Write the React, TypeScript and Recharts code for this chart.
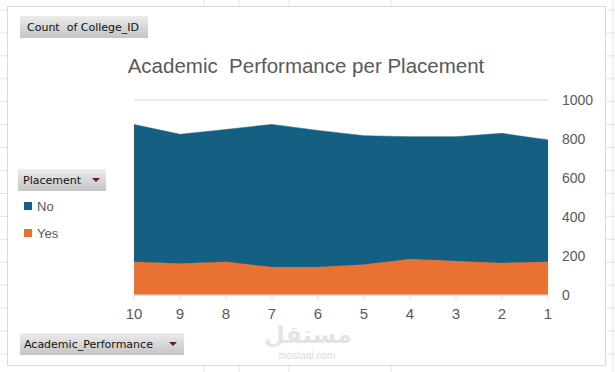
import React from 'react';
import { AreaChart, Area, XAxis, YAxis, CartesianGrid, Legend } from 'recharts';

const categories = ['10', '9', '8', '7', '6', '5', '4', '3', '2', '1'];
const yesCounts = [170, 161, 170, 144, 144, 156, 185, 175, 164, 170];
const noCounts = [705, 663, 679, 731, 700, 661, 627, 637, 665, 625];
const yTicks = [0, 200, 400, 600, 800, 1000];
const legendOrder = ['No', 'Yes'];

const data = categories.map((c, i) => ({ cat: c, Yes: yesCounts[i], No: noCounts[i] }));

const COLORS: Record<string, string> = { No: '#156082', Yes: '#E97132' };
const TEXT = '#595959';
const W = 615;
const H = 372;

const sheetRows = Array.from({ length: 17 }, (_, k) => 10 + k * 22.93);
const sheetCols = [204, 239, 289, 391];

const FieldButton = ({ left, top, width, label, pad, arrowRight }: any) => (
  <div
    style={{
      position: 'absolute',
      left,
      top,
      width,
      height: 22,
      boxSizing: 'border-box',
      background: 'linear-gradient(#ececec, #c4c4c4)',
      fontFamily: '"DejaVu Sans", sans-serif',
      fontSize: 11,
      color: '#111',
      display: 'flex',
      alignItems: 'center',
      paddingLeft: pad,
      whiteSpace: 'pre',
    }}
  >
    {label}
    {arrowRight != null && (
      <span
        style={{
          position: 'absolute',
          right: arrowRight,
          top: 9,
          width: 0,
          height: 0,
          borderLeft: '4px solid transparent',
          borderRight: '4px solid transparent',
          borderTop: '4px solid #5b1f3e',
        }}
      />
    )}
  </div>
);

const renderLegend = (props: any) => {
  const items = [...(props.payload || [])].sort(
    (a: any, b: any) => legendOrder.indexOf(String(a.value)) - legendOrder.indexOf(String(b.value))
  );
  return (
    <div style={{ position: 'relative', width: 80, height: 50 }}>
      {items.map((it: any, i: number) => (
        <div
          key={String(it.value)}
          style={{ position: 'absolute', left: 0, top: i * 27, height: 16, display: 'flex', alignItems: 'center' }}
        >
          <span style={{ width: 8, height: 8, background: COLORS[it.value] || it.color, marginRight: 5, display: 'inline-block' }} />
          <span style={{ fontSize: 13, color: TEXT, fontFamily: '"Liberation Sans", Arial, sans-serif' }}>{it.value}</span>
        </div>
      ))}
    </div>
  );
};

export default function App() {
  return (
    <div style={{ position: 'absolute', left: 0, top: 0, width: W, height: H, background: '#fff', overflow: 'hidden' }}>
      <svg width={W} height={H} style={{ position: 'absolute', left: 0, top: 0 }}>
        {sheetRows.map((y, i) => (
          <line key={'r' + i} x1={0} x2={W} y1={y} y2={y} stroke="#e3e3e3" strokeWidth={1} />
        ))}
        <line x1={613} x2={613} y1={0} y2={H} stroke="#e3e3e3" />
        {sheetCols.map((x, i) => (
          <line key={'c' + i} x1={x} x2={x} y1={0} y2={H} stroke="#e3e3e3" />
        ))}
        <rect x={7.5} y={6.5} width={598} height={359} fill="#fff" stroke="#d9d9d9" strokeWidth={1} />
      </svg>

      <div style={{ position: 'absolute', left: 0, top: 0 }}>
        <AreaChart width={W} height={H} data={data} margin={{ top: 100, right: 17, bottom: 47, left: 134 }}>
          <CartesianGrid horizontal vertical={false} stroke="#d9d9d9" strokeDasharray="" />
          <XAxis
            dataKey="cat"
            interval={0}
            axisLine={{ stroke: '#d9d9d9' }}
            tickLine={{ stroke: '#d9d9d9' }}
            tickSize={5}
            tickMargin={8}
            height={30}
            tick={{ fill: TEXT, fontSize: 15, fontFamily: '"Liberation Sans", Arial, sans-serif' }}
          />
          <YAxis
            orientation="right"
            width={50}
            domain={[0, 1000]}
            ticks={yTicks}
            axisLine={false}
            tickLine={false}
            tickMargin={8}
            tick={{ fill: TEXT, fontSize: 14, fontFamily: '"Liberation Sans", Arial, sans-serif' }}
          />
          <Legend
            layout="vertical"
            align="center"
            verticalAlign="middle"
            content={renderLegend}
            wrapperStyle={{ position: 'absolute', left: 24, top: 198, width: 80, height: 50 }}
          />
          <Area
            type="linear"
            dataKey="Yes"
            name="Yes"
            stackId="s"
            fill={COLORS.Yes}
            fillOpacity={1}
            stroke={COLORS.Yes}
            strokeWidth={1}
            dot={false}
            activeDot={false}
            isAnimationActive={false}
          />
          <Area
            type="linear"
            dataKey="No"
            name="No"
            stackId="s"
            fill={COLORS.No}
            fillOpacity={1}
            stroke={COLORS.No}
            strokeWidth={0.5}
            dot={false}
            activeDot={false}
            isAnimationActive={false}
          />
        </AreaChart>
      </div>

      <svg width={W} height={H} style={{ position: 'absolute', left: 0, top: 0, pointerEvents: 'none' }}>
        <text
          x={306}
          y={73}
          textAnchor="middle"
          fill={TEXT}
          fontSize={20.5}
          fontFamily='"Liberation Sans", Arial, sans-serif'
          style={{ whiteSpace: 'pre' }}
        >
          {'Academic  Performance per Placement'}
        </text>
        <text x={308} y={343} textAnchor="middle" fill="#e4e4e4" fontSize={24} fontWeight="bold" fontFamily='"DejaVu Sans", sans-serif'>
          مستقل
        </text>
        <text x={307} y={359} textAnchor="middle" fill="#dcdcdc" fontSize={10} fontFamily='"Liberation Sans", Arial, sans-serif'>
          mostaql.com
        </text>
      </svg>

      <FieldButton left={20} top={16} width={128} label={'Count  of College_ID'} pad={7} />
      <FieldButton left={18} top={169} width={88} label="Placement" pad={5} arrowRight={6} />
      <FieldButton left={20} top={333} width={164} label="Academic_Performance" pad={4} arrowRight={7} />
    </div>
  );
}
